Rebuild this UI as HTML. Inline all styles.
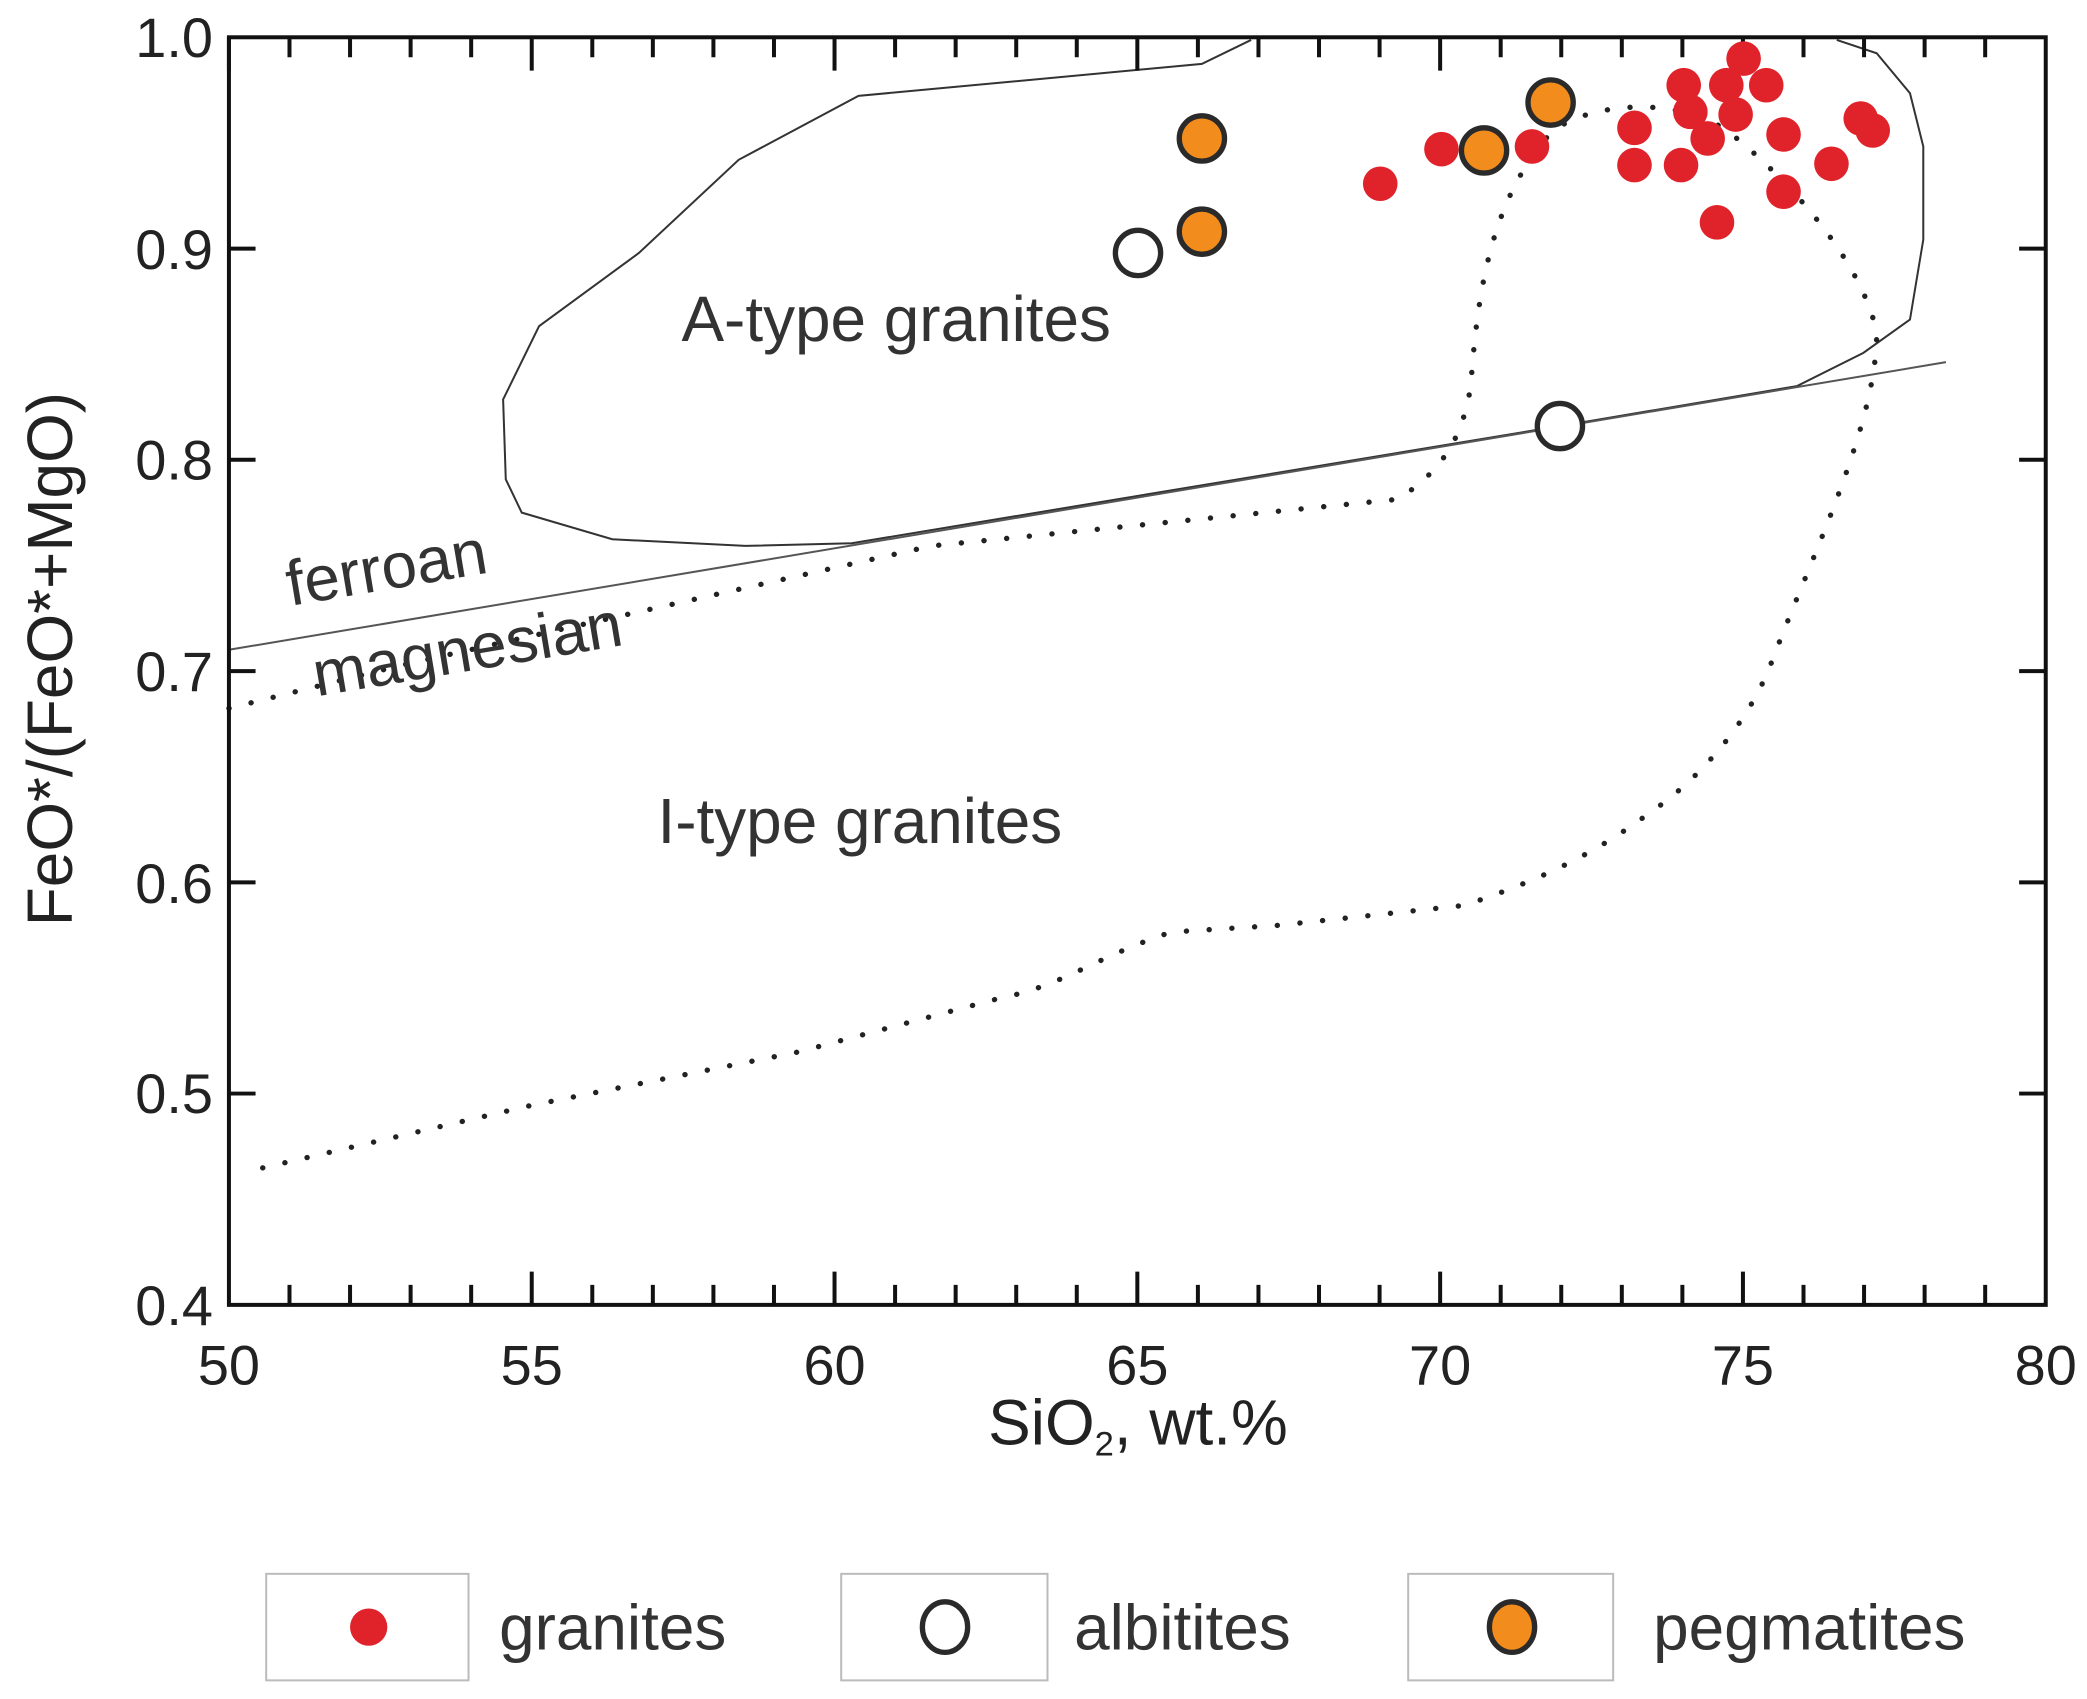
<!DOCTYPE html>
<html><head><style>html,body{margin:0;padding:0;background:#fff}svg{display:block}</style></head><body>
<svg width="2087" height="1699" viewBox="0 0 1568 1276" preserveAspectRatio="none" xmlns="http://www.w3.org/2000/svg" font-family="Liberation Sans, Arial, sans-serif">
<rect width="1568" height="1276" fill="#fff"/>
<g fill="none" stroke="#333" stroke-width="1.5">
<path d="M940,30 L903,48 L645,72 L555,120 L480,190 L405,245 L378,300 L380,360 L392,385 L460,405 L560,410 L640,408 L1172,320 L1350,290 L1400,265 L1435,240 L1445,180 L1445,110 L1435,70 L1410,40 L1380,30"/>
<path d="M172,488 L1462,272" stroke="#555"/>
</g>
<g fill="none" stroke="#222" stroke-width="4" stroke-dasharray="0.1 17" stroke-linecap="round">
<path d="M172,532 L300,500 L500,455 L700,410 L900,390 L1050,375 C1090,350 1100,320 1105,290 C1110,220 1120,150 1165,100 C1190,78 1260,70 1300,100 C1350,140 1400,200 1410,250 C1410,320 1360,420 1330,500 C1310,550 1270,590 1240,610 C1200,640 1160,660 1100,680 L960,695 L880,700 C820,720 800,740 750,750 L600,790 L400,830 L185,880"/>
</g>
<rect x="172" y="28" width="1365" height="952" fill="none" stroke="#111" stroke-width="3"/>
<g stroke="#111" stroke-width="3">
<path d="M172,28v25M217.5,28v15M263,28v15M308.5,28v15M354,28v15M399.5,28v25M445,28v15M490.5,28v15M536,28v15M581.5,28v15M627,28v25M672.5,28v15M718,28v15M763.5,28v15M809,28v15M854.5,28v25M900,28v15M945.5,28v15M991,28v15M1036.5,28v15M1082,28v25M1127.5,28v15M1173,28v15M1218.5,28v15M1264,28v15M1309.5,28v25M1355,28v15M1400.5,28v15M1446,28v15M1491.5,28v15"/>
<path d="M217.5,980v-15M263,980v-15M308.5,980v-15M354,980v-15M399.5,980v-25M445,980v-15M490.5,980v-15M536,980v-15M581.5,980v-15M627,980v-25M672.5,980v-15M718,980v-15M763.5,980v-15M809,980v-15M854.5,980v-25M900,980v-15M945.5,980v-15M991,980v-15M1036.5,980v-15M1082,980v-25M1127.5,980v-15M1173,980v-15M1218.5,980v-15M1264,980v-15M1309.5,980v-25M1355,980v-15M1400.5,980v-15M1446,980v-15M1491.5,980v-15"/>
<path d="M172,186.7h20M172,345.3h20M172,504h20M172,662.7h20M172,821.3h20M1537,186.7h-20M1537,345.3h-20M1537,504h-20M1537,662.7h-20M1537,821.3h-20"/>
</g>
<g font-size="42" fill="#222" text-anchor="end">
<text x="160" y="43">1.0</text><text x="160" y="202">0.9</text><text x="160" y="360">0.8</text><text x="160" y="519">0.7</text><text x="160" y="678">0.6</text><text x="160" y="836">0.5</text><text x="160" y="995">0.4</text>
</g>
<g font-size="42" fill="#222" text-anchor="middle">
<text x="172" y="1040">50</text><text x="399.5" y="1040">55</text><text x="627" y="1040">60</text><text x="854.5" y="1040">65</text><text x="1082" y="1040">70</text><text x="1309.5" y="1040">75</text><text x="1537" y="1040">80</text>
</g>
<g font-size="48" fill="#222" text-anchor="middle">
<text x="855" y="1085">SiO<tspan font-size="26" dy="8">2</tspan><tspan dy="-8">, wt.%</tspan></text>
<text transform="translate(54,495) rotate(-90)">FeO*/(FeO*+MgO)</text>
</g>
<g font-size="48" fill="#333">
<text x="512" y="256">A-type granites</text>
<text x="494" y="633">I-type granites</text>
<text transform="translate(218,455) rotate(-9.5)">ferroan</text>
<text transform="translate(238,523) rotate(-9.5)">magnesian</text>
</g>
<g fill="#e0232a">
<circle cx="1037" cy="138" r="13"/><circle cx="1083" cy="112" r="13"/><circle cx="1151" cy="110" r="13"/><circle cx="1228" cy="96" r="13"/><circle cx="1228" cy="124" r="13"/><circle cx="1265" cy="64" r="13"/><circle cx="1270" cy="84" r="13"/><circle cx="1263" cy="124" r="13"/><circle cx="1283" cy="104" r="13"/><circle cx="1297" cy="64" r="13"/><circle cx="1304" cy="86" r="13"/><circle cx="1310" cy="44" r="13"/><circle cx="1327" cy="64" r="13"/><circle cx="1340" cy="101" r="13"/><circle cx="1340" cy="144" r="13"/><circle cx="1290" cy="167" r="13"/><circle cx="1376" cy="123" r="13"/><circle cx="1398" cy="89" r="13"/><circle cx="1407" cy="98" r="13"/>
</g>
<g fill="#f28c1c" stroke="#2a2a2a" stroke-width="4">
<circle cx="903" cy="104" r="17"/><circle cx="903" cy="174" r="17"/><circle cx="1115" cy="113" r="17"/><circle cx="1165" cy="77" r="17"/>
</g>
<g fill="#fff" stroke="#2a2a2a" stroke-width="4">
<circle cx="855" cy="190" r="17"/><circle cx="1172" cy="320" r="17"/>
</g>
<g fill="none" stroke="#bbb" stroke-width="1.5">
<rect x="200" y="1182" width="152" height="80"/><rect x="632" y="1182" width="155" height="80"/><rect x="1058" y="1182" width="154" height="80"/>
</g>
<circle cx="277" cy="1222" r="14" fill="#e0232a"/>
<ellipse cx="710" cy="1222" rx="17" ry="19" fill="#fff" stroke="#2a2a2a" stroke-width="4"/>
<ellipse cx="1136" cy="1222" rx="17" ry="19" fill="#f28c1c" stroke="#2a2a2a" stroke-width="4"/>
<g font-size="48" fill="#333">
<text x="375" y="1239">granites</text><text x="807" y="1239">albitites</text><text x="1242" y="1239">pegmatites</text>
</g>
</svg>
</body></html>
